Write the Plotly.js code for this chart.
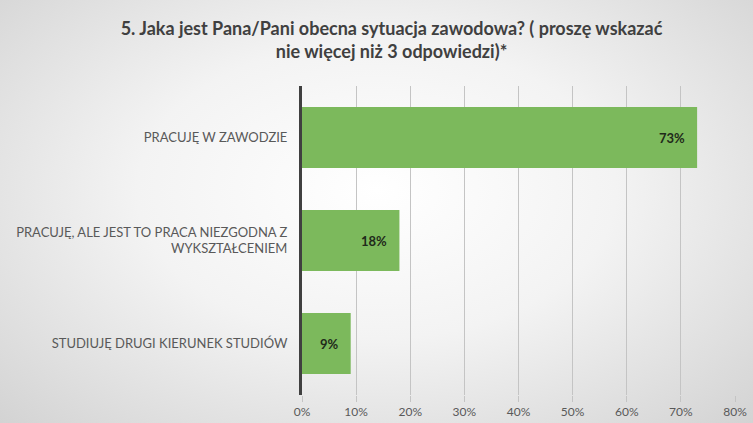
<!DOCTYPE html>
<html><head><meta charset="utf-8">
<script src="https://cdn.plot.ly/plotly-3.0.1.min.js"></script>
<style>
html,body{margin:0;padding:0;}
#chart{width:753px;height:423px;background:radial-gradient(ellipse at 50% 45%, #ffffff 0%, #f3f3f3 45%, #d3d3d3 100%);}
</style></head>
<body><div id="chart"></div>
<script>
const categories = ["PRACUJĘ W ZAWODZIE", "PRACUJĘ, ALE JEST TO PRACA NIEZGODNA Z<br>WYKSZTAŁCENIEM", "STUDIUJĘ DRUGI KIERUNEK STUDIÓW"];
const values = [0.73, 0.18, 0.09];
const labels = ["73%", "18%", "9%"];
const tickVals = [0, 0.1, 0.2, 0.3, 0.4, 0.5, 0.6, 0.7, 0.8];
const tickText = ["0%", "10%", "20%", "30%", "40%", "50%", "60%", "70%", "80%"];

const font = "Lato, 'Open Sans', sans-serif";
const annotations = values.map((v, i) => ({
  x: v, y: categories[i], xref: 'x', yref: 'y', text: '<b>' + labels[i] + '</b>',
  showarrow: false, xanchor: 'right', xshift: -10,
  font: {family: font, size: 13, color: '#1f2a1a'}
}));
Plotly.newPlot('chart', [{
  type: 'bar', orientation: 'h', x: values, y: categories,
  marker: {color: '#7cb95c'}, width: 0.59, hoverinfo: 'none'
}], {
  width: 753, height: 423,
  paper_bgcolor: 'rgba(0,0,0,0)', plot_bgcolor: 'rgba(0,0,0,0)',
  margin: {l: 302, r: 18, t: 86, b: 28},
  title: {text: '<b>5. Jaka jest Pana/Pani obecna sytuacja zawodowa? ( proszę wskazać<br>nie więcej niż 3 odpowiedzi)*</b>',
    font: {family: font, size: 18, color: '#404040'}, x: 0.52, xanchor: 'center', y: 0.918, yanchor: 'top'},
  xaxis: {range: [0, 0.8], tickvals: tickVals, ticktext: tickText, showgrid: true, gridcolor: '#c4c4c4', gridwidth: 1,
    zeroline: false, showline: false, ticks: 'outside', ticklen: 6, tickcolor: '#c4c4c4',
    tickfont: {family: font, size: 12, color: '#595959'}, fixedrange: true},
  yaxis: {autorange: 'reversed', showline: true, linecolor: '#404040', linewidth: 3, showgrid: false,
    ticks: '', ticklabelstandoff: 9, tickfont: {family: font, size: 13, color: '#595959'}, fixedrange: true},
  annotations: annotations,
  showlegend: false, bargap: 0.41
}, {displayModeBar: false, staticPlot: true});
</script></body></html>
